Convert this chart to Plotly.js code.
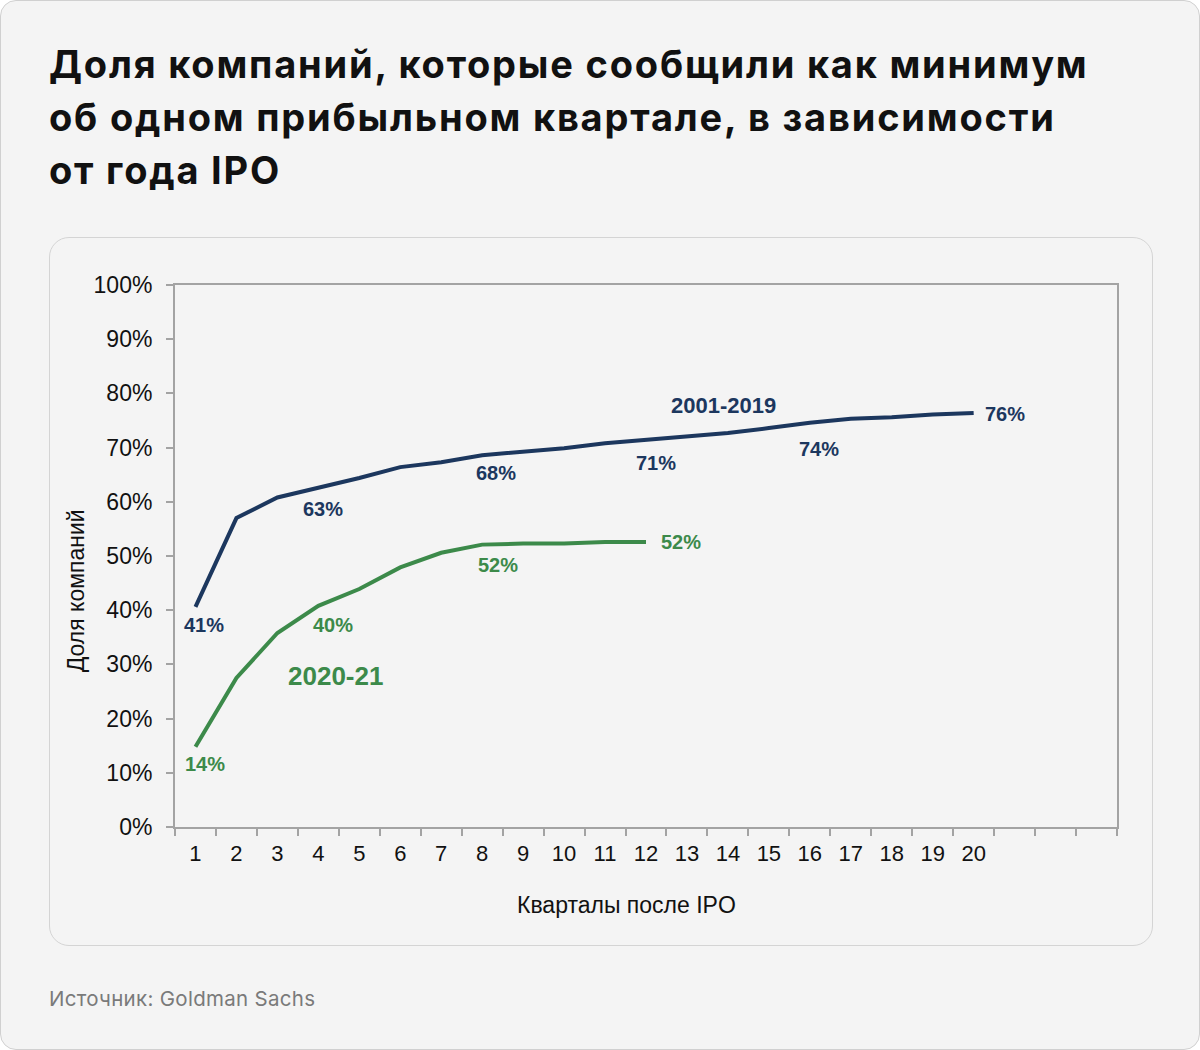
<!DOCTYPE html>
<html>
<head>
<meta charset="utf-8">
<script src="https://cdn.plot.ly/plotly-3.0.1.min.js"></script>
<style>
  html, body { margin: 0; padding: 0; background: #ffffff; }
  #page { position: relative; width: 1200px; height: 1050px; box-sizing: border-box;
          background: #f4f4f4; border: 1px solid #d0d0d0; border-radius: 16px; overflow: hidden; }
  #title { position: absolute; left: 48px; top: 37px; width: 1140px;
           font-family: Inter, "Noto Sans", sans-serif; font-weight: 700; font-size: 38px;
           line-height: 53px; color: #111111; letter-spacing: 1.8px; }
  #card { position: absolute; left: 48px; top: 236px; width: 1104px; height: 709px; box-sizing: border-box;
          border: 1px solid #d4d4d4; border-radius: 20px; background: #f4f4f4; }
  #chart { position: absolute; left: 0; top: 0; width: 1200px; height: 1050px; }
  #source { position: absolute; left: 48px; top: 985px; font-family: Inter, "Noto Sans", sans-serif;
            font-size: 20.5px; color: #7a7a7a; letter-spacing: 0.3px; }
</style>
</head>
<body>
<div id="page">
  <div id="title">Доля компаний, которые сообщили как минимум<br>об одном прибыльном квартале, в зависимости<br>от года IPO</div>
  <div id="card"></div>
  <div id="chart"></div>
  <div id="source">Источник: Goldman Sachs</div>
</div>
<script>
// ---- data ----
const quarters = [1,2,3,4,5,6,7,8,9,10,11,12,13,14,15,16,17,18,19,20];
const tickLabels = ["1","2","3","4","5","6","7","8","9","10","11","12","13","14","15","16","17","18","19","20"];
const totalSlots = 23; // category slots drawn on the axis (3 empty after 20)
const series2001 = [40.6,57.0,60.8,62.6,64.4,66.4,67.3,68.6,69.2,69.9,70.8,71.4,72.1,72.7,73.6,74.6,75.3,75.6,76.1,76.4];
const series2020 = [14.8,27.5,35.8,40.8,43.9,47.9,50.6,52.1,52.3,52.3,52.6,52.6];
const name2001 = "2001-2019";
const name2020 = "2020-21";
// data labels: index of point, text
const labels2001Idx = [0,3,7,11,15,19];
const labels2001Txt = ["41%","63%","68%","71%","74%","76%"];
const labels2020Idx = [0,3,7,11];
const labels2020Txt = ["14%","40%","52%","52%"];
const yTicks = [0,10,20,30,40,50,60,70,80,90,100];

// ---- styles ----
const navy = "#1c375e";
const green = "#3c8a4a";
const axisGray = "#a3a3a3";
const fontFam = "'Liberation Sans', Arial, sans-serif";

const boundaries = [];
for (let i = 0; i <= totalSlots; i++) boundaries.push(i + 0.5);

const traces = [
  { x: quarters.slice(0, series2001.length), y: series2001, type: "scatter", mode: "lines",
    line: { color: navy, width: 4 }, name: name2001, hoverinfo: "skip" },
  { x: quarters.slice(0, series2020.length), y: series2020, type: "scatter", mode: "lines",
    line: { color: green, width: 4 }, name: name2020, hoverinfo: "skip" }
];

const ann = [];
const offs2001 = [[9,-18],[5,-21],[14,-18],[10,-23],[9,-26]];
labels2001Idx.forEach((idx, k) => {
  const last = k === labels2001Idx.length - 1;
  ann.push({ x: quarters[idx], y: series2001[idx], xref: "x", yref: "y", text: labels2001Txt[k],
    showarrow: false, xanchor: last ? "left" : "center", yanchor: "middle",
    xshift: last ? 9 : offs2001[k][0], yshift: last ? -1 : offs2001[k][1],
    font: { family: fontFam, size: 20, color: navy, weight: 700 } });
});
const offs2020 = [[10,-17],[15,-19],[16,-20]];
labels2020Idx.forEach((idx, k) => {
  const last = k === labels2020Idx.length - 1;
  ann.push({ x: quarters[idx], y: series2020[idx], xref: "x", yref: "y", text: labels2020Txt[k],
    showarrow: false, xanchor: last ? "left" : "center", yanchor: "middle",
    xshift: last ? 13 : offs2020[k][0], yshift: last ? 0 : offs2020[k][1],
    font: { family: fontFam, size: 20, color: green, weight: 700 } });
});
ann.push({ x: 13.9, y: 77.7, xref: "x", yref: "y", text: name2001, showarrow: false,
  xanchor: "center", yanchor: "middle",
  font: { family: fontFam, size: 22, color: navy, weight: 700 } });
ann.push({ x: 4.43, y: 27.9, xref: "x", yref: "y", text: name2020, showarrow: false,
  xanchor: "center", yanchor: "middle",
  font: { family: fontFam, size: 26, color: green, weight: 700 } });
// axis titles
ann.push({ x: -0.105, y: 0.435, xref: "paper", yref: "paper", text: "Доля компаний", textangle: -90,
  xanchor: "center", yanchor: "middle",
  showarrow: false, font: { family: fontFam, size: 23, color: "#111" } });
ann.push({ x: 0.479, y: -0.144, xref: "paper", yref: "paper", text: "Кварталы после IPO",
  xanchor: "center", yanchor: "middle",
  showarrow: false, font: { family: fontFam, size: 23, color: "#111" } });

const layout = {
  width: 1200, height: 1050,
  paper_bgcolor: "rgba(0,0,0,0)", plot_bgcolor: "rgba(0,0,0,0)",
  margin: { l: 174, r: 84, t: 284, b: 224, pad: 0 },
  showlegend: false,
  font: { family: fontFam, color: "#111" },
  xaxis: {
    range: [0.5, totalSlots + 0.5], showgrid: false, zeroline: false,
    showline: true, linecolor: axisGray, linewidth: 2, mirror: true,
    tickmode: "array", tickvals: quarters, ticktext: tickLabels, ticks: "",
    ticklabelstandoff: 6,
    tickfont: { family: fontFam, size: 22, color: "#111" },
    minor: { tickmode: "array", tickvals: boundaries, ticks: "outside", ticklen: 7, tickwidth: 2, tickcolor: axisGray, showgrid: false }
  },
  yaxis: {
    range: [0, 100], showgrid: false, zeroline: false,
    showline: true, linecolor: axisGray, linewidth: 2, mirror: true,
    tickmode: "array", tickvals: yTicks, ticktext: yTicks.map(v => v + "%"),
    ticks: "outside", ticklen: 7, tickwidth: 2, tickcolor: axisGray,
    ticklabelstandoff: 9,
    tickfont: { family: fontFam, size: 23, color: "#111" }
  },
  annotations: ann
};

Plotly.newPlot("chart", traces, layout, { staticPlot: true, displayModeBar: false });
</script>
</body>
</html>
